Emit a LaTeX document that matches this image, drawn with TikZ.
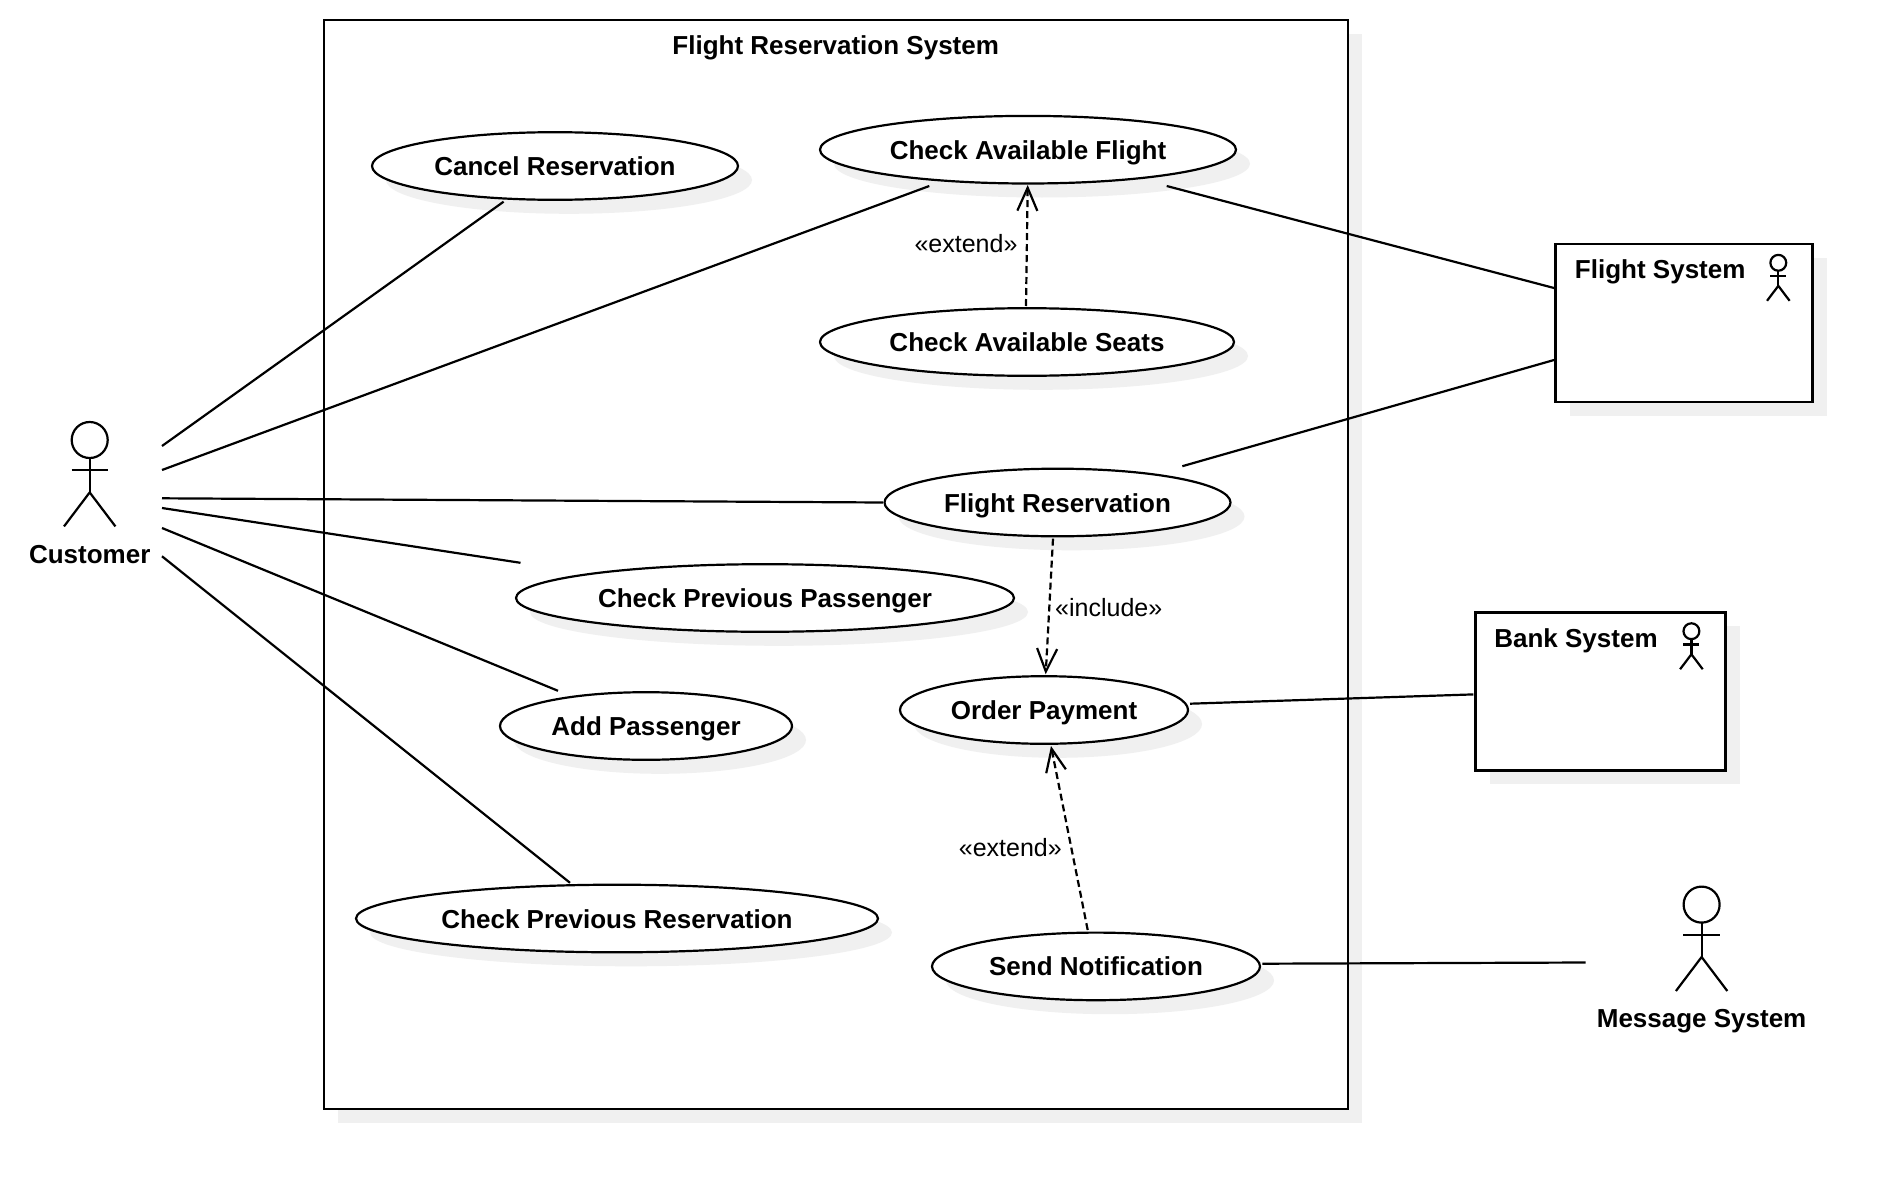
\documentclass[tikz,border=0pt]{standalone}
\usepackage{fontspec}
\setmainfont{Liberation Sans}
\usetikzlibrary{shapes.geometric,shadows,arrows.meta}
\definecolor{shadowgrey}{HTML}{F0F0F0}
\tikzset{
  x=1pt,y=-1pt,
  every node/.style={inner sep=0pt,outer sep=0pt},
  lbl/.style={font=\bfseries\fontsize{26}{30}\selectfont,text height=19pt,text depth=0pt},
  stereo/.style={font=\fontsize{25}{30}\selectfont},
  dropshadow/.style={general shadow={shadow xshift=14pt,shadow yshift=-14pt,fill=shadowgrey,draw=none}},
  usecase/.style={ellipse,draw=black,fill=white,line width=2.2pt,minimum height=67.6pt,dropshadow,lbl},
  systembox/.style={rectangle,draw=black,fill=white,line width=2.4pt,dropshadow},
  assoc/.style={draw=black,line width=2.2pt},
  dep/.style={draw=black,line width=2.2pt,dash pattern=on 7pt off 4pt,-{Straight Barb[length=23pt,width=20pt,line width=2.2pt]}},
  actorfig/.pic={
    \draw[line width=2.2pt] (0,0) circle[radius=18];
    \draw[line width=2.2pt] (0,18) -- (0,52.4);
    \draw[line width=2.2pt] (-18.2,30) -- (18.2,30);
    \draw[line width=2.2pt] (-25.7,86.4) -- (0,52.4) -- (25.7,86.4);
  }
}
\begin{document}
\begin{tikzpicture}
\useasboundingbox (0,0) rectangle (1894,1188);
% system boundary
\node[systembox,minimum width=1024pt,minimum height=1089pt] (sys) at (836,564.4) {};
\node[lbl] (title) at (835.7,45) {Flight Reservation System};
% use cases
\node[usecase,minimum width=366pt] (cancel) at (555,166) {Cancel Reservation};
\node[usecase,minimum width=416pt] (flightcheck) at (1028,149.7) {Check Available Flight};
\node[usecase,minimum width=414pt] (seats) at (1027,342) {Check Available Seats};
\node[usecase,minimum width=346pt] (reserve) at (1057.5,502.5) {Flight Reservation};
\node[usecase,minimum width=498pt] (prevpass) at (765,598) {Check Previous Passenger};
\node[usecase,minimum width=292pt] (addpass) at (646,726) {Add Passenger};
\node[usecase,minimum width=288pt] (payment) at (1044,710) {Order Payment};
\node[usecase,minimum width=522pt] (prevres) at (617,918.5) {Check Previous Reservation};
\node[usecase,minimum width=328pt] (notify) at (1096,966.4) {Send Notification};
% external systems
\node[systembox,minimum width=257pt,minimum height=158pt] (fsys) at (1684,323) {};
\node[lbl] (fsyslabel) at (1660.2,269.3) {Flight System};
\pic[scale=0.44] at (1778.3,262.8) {actorfig};
\node[systembox,minimum width=250pt,minimum height=158pt] (bsys) at (1600.6,691.4) {};
\node[lbl] (bsyslabel) at (1576,637.6) {Bank System};
\pic[scale=0.44] at (1691.4,631.2) {actorfig};
% actors
\pic at (89.7,440) {actorfig};
\node[lbl] (customer) at (89.7,553.5) {Customer};
\pic at (1701.6,904.6) {actorfig};
\node[lbl] (message) at (1701.6,1018) {Message System};
% free ends next to the stick figures
\coordinate (c1) at (162,446);
\coordinate (c2) at (162,470);
\coordinate (c3) at (162,498.3);
\coordinate (c4) at (162,508);
\coordinate (c5) at (162,528);
\coordinate (c6) at (162,556.3);
\coordinate (m1) at (1585.7,962.5);
% associations
\draw[assoc] (c1) -- ([shift={(-51.4,35.7)}]cancel.center);
\draw[assoc] (c2) -- ([shift={(-98.7,36.3)}]flightcheck.center);
\draw[assoc] (c3) -- ([shift={(-174.7,0)}]reserve.center);
\draw[assoc] (c4) -- ([shift={(-244.5,-35.2)}]prevpass.center);
\draw[assoc] (c5) -- ([shift={(-88,-35.2)}]addpass.center);
\draw[assoc] (c6) -- ([shift={(-47,-35.7)}]prevres.center);
\draw[assoc] ([shift={(138.7,36.3)}]flightcheck.center) -- ([shift={(-130,-35)}]fsys.center);
\draw[assoc] ([shift={(124.8,-36.3)}]reserve.center) -- ([shift={(-130,37)}]fsys.center);
\draw[assoc] ([shift={(146,-6.3)}]payment.center) -- ([shift={(-127.2,3)}]bsys.center);
\draw[assoc] ([shift={(166.3,-2.7)}]notify.center) -- (m1);
% dependencies
\draw[dep] ([shift={(-1,-36)}]seats.center) -- ([shift={(-0.3,35.3)}]flightcheck.center);
\draw[dep] ([shift={(-4.5,36.1)}]reserve.center) -- ([shift={(1.7,-35.7)}]payment.center);
\draw[dep] ([shift={(-8.3,-36.4)}]notify.center) -- ([shift={(7,36)}]payment.center);
\node[stereo] (ext1) at (966,243.3) {«extend»};
\node[stereo] (inc) at (1108.7,607.5) {«include»};
\node[stereo] (ext2) at (1010.3,847.3) {«extend»};
\end{tikzpicture}
\end{document}
